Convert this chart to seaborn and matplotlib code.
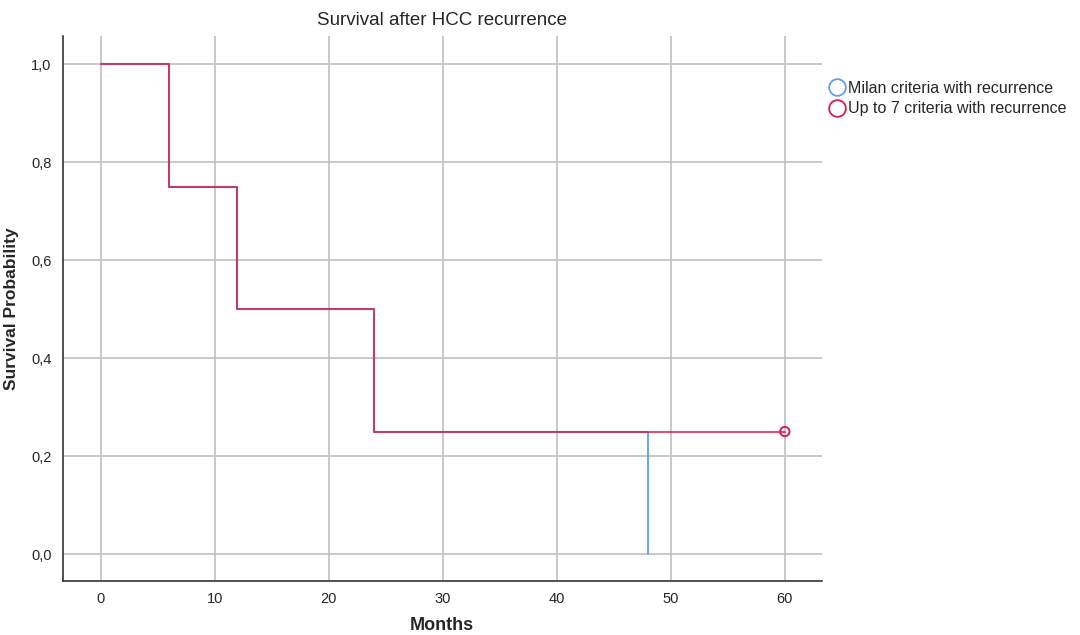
import pandas as pd
import numpy as np
import seaborn as sns
import matplotlib.pyplot as plt
from matplotlib.lines import Line2D

# step points of the Kaplan-Meier curves
milan_months = [0, 6, 12, 24, 48]
milan_surv = [1.0, 0.75, 0.5, 0.25, 0.0]
upto7_months = [0, 6, 12, 24, 60]
upto7_surv = [1.0, 0.75, 0.5, 0.25, 0.25]
censor_month = [60]
censor_surv = [0.25]
groups = ["Milan criteria with recurrence", "Up to 7 criteria with recurrence"]
yticks = [0.0, 0.2, 0.4, 0.6, 0.8, 1.0]
xticks = [0, 10, 20, 30, 40, 50, 60]

df = pd.DataFrame({
    "Months": milan_months + upto7_months,
    "Survival": milan_surv + upto7_surv,
    "group": [groups[0]] * len(milan_months) + [groups[1]] * len(upto7_months),
})

sns.set_style("white")
plt.rcParams['font.family'] = ['Liberation Sans', 'DejaVu Sans']
colors = {groups[0]: "#5fa0ec", groups[1]: "#d81e4c"}

fig = plt.figure(figsize=(10.8, 6.35), dpi=100)
ax = fig.add_axes([0.058, 0.085, 0.703, 0.858])
ax.grid(True, color="#c4c4c4", linewidth=1.3)
ax.set_axisbelow(True)

sns.lineplot(data=df[df.group == groups[0]], x="Months", y="Survival", drawstyle="steps-post",
             color=colors[groups[0]], linewidth=1.3, ax=ax, legend=False)
sns.lineplot(data=df[df.group == groups[1]], x="Months", y="Survival", drawstyle="steps-post",
             color=colors[groups[1]], linewidth=1.5, alpha=0.78, ax=ax, legend=False)
sns.scatterplot(x=censor_month, y=censor_surv, marker="o", s=45, facecolors="none",
                edgecolor=colors[groups[1]], linewidth=1.4, ax=ax)

ax.set_xlim(-3.33, 63.25)
ax.set_ylim(-0.055, 1.057)
ax.set_xticks(xticks)
ax.set_yticks(yticks)
ax.set_yticklabels([f"{v:.1f}".replace(".", ",") for v in yticks])
ax.tick_params(labelsize=10.5, length=0, pad=8)
for s in ["top", "right"]:
    ax.spines[s].set_visible(False)
for s in ["left", "bottom"]:
    ax.spines[s].set_color("#333333")
    ax.spines[s].set_linewidth(1.2)

ax.set_xlabel("Months", fontsize=13, fontweight="bold", labelpad=8)
ax.set_ylabel("Survival Probability", fontsize=12.5, fontweight="bold", labelpad=9)
ax.set_title("Survival after HCC recurrence", fontsize=13.5, fontweight="medium", pad=8)

handles = [Line2D([], [], marker="o", linestyle="none", markersize=12, markerfacecolor="none",
                  markeredgecolor=colors[g], markeredgewidth=1.3) for g in groups]
fig.legend(handles, groups, loc="upper left", bbox_to_anchor=(0.757, 0.883), frameon=False,
           fontsize=11.5, handletextpad=-0.1, handlelength=1.6, labelspacing=0.35, borderaxespad=0)

fig.savefig("out.png", dpi=100)
